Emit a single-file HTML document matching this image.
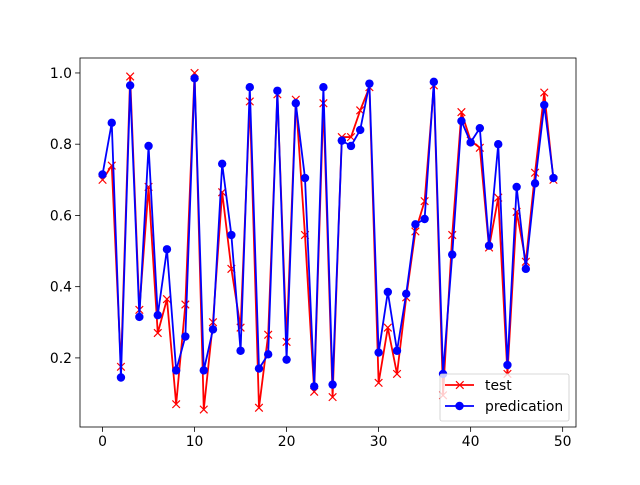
<!DOCTYPE html>
<html><head><meta charset="utf-8"><style>
body{margin:0;background:#fff}
svg text{font-family:"DejaVu Sans","Liberation Sans",sans-serif;font-size:13.9px;fill:#000}
</style></head><body>
<svg id="chart" width="640" height="480" xmlns="http://www.w3.org/2000/svg">
<rect width="640" height="480" fill="#fff"/>
<g id="plot"></g>
</svg>
<script>
const xTicks=[0,10,20,30,40,50];
const yTicks=[0.2,0.4,0.6,0.8,1.0];
const yTickLabels=["0.2","0.4","0.6","0.8","1.0"];
const testValues=[0.70,0.74,0.175,0.99,0.335,0.68,0.27,0.365,0.07,0.35,1.0,0.055,0.30,0.665,0.45,0.285,0.92,0.06,0.265,0.94,0.245,0.925,0.545,0.105,0.915,0.09,0.82,0.82,0.895,0.96,0.13,0.285,0.155,0.37,0.555,0.64,0.965,0.095,0.545,0.89,0.81,0.79,0.51,0.65,0.155,0.61,0.47,0.72,0.945,0.70];
const predValues=[0.715,0.86,0.145,0.965,0.315,0.795,0.32,0.505,0.165,0.26,0.985,0.165,0.28,0.745,0.545,0.22,0.96,0.17,0.21,0.95,0.195,0.915,0.705,0.12,0.96,0.125,0.81,0.795,0.84,0.97,0.215,0.385,0.22,0.38,0.575,0.59,0.975,0.155,0.49,0.865,0.805,0.845,0.515,0.80,0.18,0.68,0.45,0.69,0.91,0.705];
const L=80,R=576,T=58,B=427;
const xmin=-2.45,xmax=51.45,ymin=0.006,ymax=1.042;
const sx=v=>L+(v-xmin)/(xmax-xmin)*(R-L);
const sy=v=>B-(v-ymin)/(ymax-ymin)*(B-T);
const NS="http://www.w3.org/2000/svg";
const g=document.getElementById('plot');
function mk(tag,attrs,parent){const e=document.createElementNS(NS,tag);for(const k in attrs)e.setAttribute(k,attrs[k]);(parent||g).appendChild(e);return e;}
let fr=mk('rect',{x:L,y:T,width:R-L,height:B-T,fill:'none',stroke:'#000','stroke-width':0.8});


xTicks.forEach(t=>{
  const x=sx(t);
  let tk=mk('line',{x1:x,x2:x,y1:B,y2:B+4.9,stroke:'#000','stroke-width':0.8});
  
  
  let tx=mk('text',{x:x,y:B+19,'text-anchor':'middle'});tx.textContent=t;
  
  
});
yTicks.forEach((t,i)=>{
  const y=sy(t);
  let tk=mk('line',{x1:L-4.9,x2:L,y1:y,y2:y,stroke:'#000','stroke-width':0.8});
  
  
  let tx=mk('text',{x:L-8,y:y+5,'text-anchor':'end'});tx.textContent=yTickLabels[i];
  
  
});
function series(vals,color,marker,name){
  const gg=mk('g',{});
  
  
  const pts=vals.map((v,i)=>sx(i)+','+sy(v)).join(' ');
  let pl=mk('polyline',{points:pts,fill:'none',stroke:color,'stroke-width':1.8,'stroke-linejoin':'round'},gg);
  
  
  vals.forEach((v,i)=>{
    const x=sx(i),y=sy(v);
    let m;
    if(marker==='x'){m=mk('path',{d:`M${x-3.8},${y-3.8}L${x+3.8},${y+3.8}M${x-3.8},${y+3.8}L${x+3.8},${y-3.8}`,stroke:color,'stroke-width':1.2},gg);}
    else{m=mk('circle',{cx:x,cy:y,r:4.2,fill:color},gg);}
    
    
  });
}
series(testValues,'#ff0000','x','test');
series(predValues,'#0000ff','o','predication');
const lg=mk('g',{});


mk('rect',{x:440,y:374,width:129,height:47,rx:2,fill:'#fff','fill-opacity':0.8,stroke:'#ccc','stroke-width':0.8},lg);
const e1=mk('g',{},lg);


mk('line',{x1:445,x2:474,y1:385,y2:385,stroke:'#ff0000','stroke-width':1.8},e1);
mk('path',{d:'M456,381.2L463.6,388.8M456,388.8L463.6,381.2',stroke:'#ff0000','stroke-width':1.2},e1);
let t1=mk('text',{x:485,y:390},e1);t1.textContent='test';
const e2=mk('g',{},lg);


mk('line',{x1:445,x2:474,y1:406,y2:406,stroke:'#0000ff','stroke-width':1.8},e2);
mk('circle',{cx:459.5,cy:406,r:4.2,fill:'#0000ff'},e2);
let t2=mk('text',{x:485,y:411},e2);t2.textContent='predication';
</script>
</body></html>
